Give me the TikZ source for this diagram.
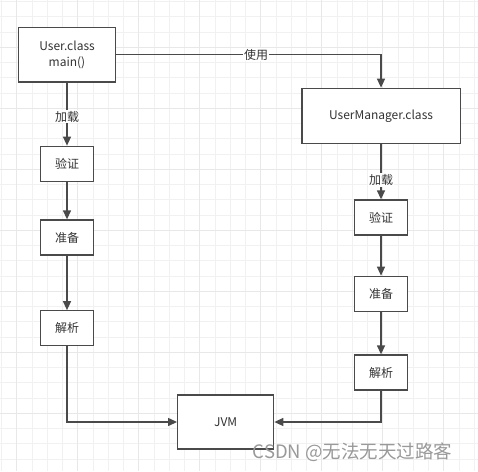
\documentclass[tikz,border=0pt]{standalone}
\usepackage{fontspec}
\setmainfont{Noto Sans CJK SC}
\usetikzlibrary{arrows.meta}
\definecolor{gridminor}{HTML}{F1F1F1}
\definecolor{gridmajor}{HTML}{E8E8E8}
\definecolor{boxline}{HTML}{4A4A4A}
\definecolor{txt}{HTML}{333333}
\tikzset{
  box/.style={draw=boxline, line width=1.3pt, fill=white, inner sep=0pt, text=txt,
    font=\fontsize{12}{16}\selectfont, align=center},
  conn/.style={draw=boxline, line width=1.3pt, -{Triangle[length=9pt,width=8pt]}},
  lbl/.style={fill=white, inner sep=1pt, text=txt, font=\fontsize{12}{14}\selectfont}
}
\begin{document}
\begin{tikzpicture}[x=1pt,y=-1pt]
\useasboundingbox (0,0) rectangle (478,471);
\fill[white] (0,0) rectangle (478,471);
% grid
\foreach \k in {0,...,31} {
  \pgfmathsetmacro{\p}{1.7+15.25*\k}
  \draw[gridminor, line width=1pt] (\p,0) -- (\p,471);
  \draw[gridminor, line width=1pt] (0,\p) -- (478,\p);
}
\foreach \k in {1,5,...,29} {
  \pgfmathsetmacro{\p}{1.7+15.25*\k}
  \draw[gridmajor, line width=1pt] (\p,0) -- (\p,471);
}
\foreach \k in {3,7,...,31} {
  \pgfmathsetmacro{\p}{1.7+15.25*\k}
  \draw[gridmajor, line width=1pt] (0,\p) -- (478,\p);
}
% nodes
\node[box, minimum width=96.5pt, minimum height=54.5pt] (user) at (67,54.75) {User.class\\main()};
\node[box, minimum width=53.3pt, minimum height=35pt] (lv) at (67,163.8) {验证};
\node[box, minimum width=53.3pt, minimum height=35pt] (lp) at (67,237.5) {准备};
\node[box, minimum width=53.3pt, minimum height=35pt] (lr) at (67,328.3) {解析};
\node[box, minimum width=158.3pt, minimum height=55pt] (um) at (381,115.8) {UserManager.class};
\node[box, minimum width=53.3pt, minimum height=35pt] (rv) at (381,217.5) {验证};
\node[box, minimum width=53.3pt, minimum height=35pt] (rp) at (381,293.8) {准备};
\node[box, minimum width=53.3pt, minimum height=35pt] (rr) at (381,372.5) {解析};
\node[box, minimum width=96pt, minimum height=54pt] (jvm) at (225.7,422) {JVM};
\coordinate (c1) at (381,54.75);
\coordinate (c2) at (67,422);
\coordinate (c3) at (381,422);
% connectors
\draw[conn] (user.east) -- (c1) -- (um.north);
\node[lbl] (use) at (256,54.75) {使用};
\draw[conn] (user.south) -- (lv.north);
\node[lbl] (load1) at (67,116.7) {加载};
\draw[conn] (lv) -- (lp);
\draw[conn] (lp) -- (lr);
\draw[conn] (lr.south) -- (c2) -- (jvm.west);
\draw[conn] (um.south) -- (rv.north);
\node[lbl] (load2) at (381,180) {加载};
\draw[conn] (rv) -- (rp);
\draw[conn] (rp) -- (rr);
\draw[conn] (rr.south) -- (c3) -- (jvm.east);
% watermark
\node[anchor=west, inner sep=0pt, text=black!40, font=\fontsize{18.5}{20}\selectfont] (wm) at (252.7,452.5) {CSDN @无法无天过路客};
\end{tikzpicture}
\end{document}
